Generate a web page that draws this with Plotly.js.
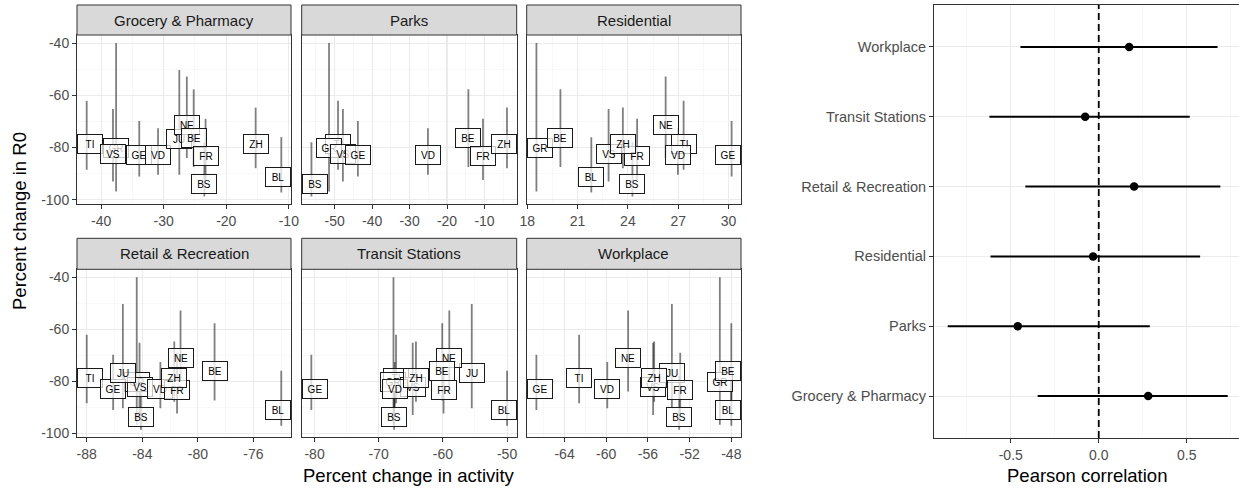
<!DOCTYPE html>
<html><head><meta charset="utf-8">
<script src="https://cdn.plot.ly/plotly-3.0.1.min.js"></script>
<style>html,body{margin:0;padding:0;background:#fff}#chart{width:1239px;height:488px}</style>
</head><body><div id="chart"></div>
<script>
// ---- data ----
const cantons   = ["TI","GR","VS","GE","VD","JU","NE","BE","FR","BS","ZH","BL"];
const r0Change  = [-78.6,-80.2,-82.4,-83.0,-83.0,-76.8,-71.2,-76.2,-83.2,-93.8,-78.7,-91.1];
const r0Low     = [-88.5,-96.8,-93.0,-91.1,-90.4,-90.4,-84.0,-87.4,-92.4,-98.7,-87.9,-97.2];
const r0High    = [-62.1,-40.0,-65.2,-69.8,-72.6,-50.3,-52.8,-57.7,-69.0,-78.0,-64.7,-76.0];

const grocery     = [-42.3,-37.6,-38.1,-33.9,-30.9,-27.5,-26.3,-25.2,-23.3,-23.5,-15.3,-11.2];
const parks       = [-49.1,-51.5,-47.8,-43.8,-25.1,null,null,-14.3,-10.4,-56.2,-4.0,null];
const residential = [27.32,18.55,22.85,30.18,26.98,null,26.25,19.98,24.55,24.27,23.70,21.82];
const retail      = [-88.0,-84.4,-84.2,-86.1,-82.7,-85.4,-81.25,-78.8,-81.5,-84.1,-81.7,-74.0];
const transit     = [-67.3,-67.7,-64.7,-80.5,-67.5,-55.5,-59.0,-60.1,-59.9,-67.6,-64.2,-50.0];
const workplace   = [-62.6,-49.1,-55.5,-66.7,-59.9,-53.7,-57.9,-48.0,-52.9,-53.0,-55.4,-48.0];

const facetNames = ["Grocery & Pharmacy","Parks","Residential","Retail & Recreation","Transit Stations","Workplace"];

const groceryTicks     = [-40,-30,-20,-10];
const parksTicks       = [-50,-40,-30,-20,-10];
const residentialTicks = [18,21,24,27,30];
const retailTicks      = [-88,-84,-80,-76];
const transitTicks     = [-80,-70,-60,-50];
const workplaceTicks   = [-64,-60,-56,-52,-48];
const r0Ticks          = [-40,-60,-80,-100];

const corrCategories = ["Grocery & Pharmacy","Parks","Residential","Retail & Recreation","Transit Stations","Workplace"];
const corrR  = [0.281,-0.460,-0.032,0.201,-0.077,0.173];
const corrLo = [-0.347,-0.858,-0.615,-0.417,-0.621,-0.445];
const corrHi = [0.733,0.290,0.576,0.691,0.517,0.675];
const corrTicks = [-0.5,0,0.5];
const corrTickText = ["-0.5","0.0","0.5"];

// ---- layout helpers ----
const W = 1239, H = 488;
const fx = v => v / W, fy = v => 1 - v / H;
const FONT = "Liberation Sans, Arial, Helvetica, sans-serif";
const colsPx = [[77,291],[301.7,516.7],[526.7,741]];
const rowsPlot = [[35,204],[269.3,437.3]];
const rowsStrip = [[5,35],[238.3,269.3]];

const facets = [
  {x: grocery,     range:[-43.85,-9.65], ticks: groceryTicks,     minor:5},
  {x: parks,       range:[-58.8,-1.4],   ticks: parksTicks,       minor:5},
  {x: residential, range:[17.97,30.74],  ticks: residentialTicks, minor:1.5},
  {x: retail,      range:[-88.7,-73.3],  ticks: retailTicks,      minor:2},
  {x: transit,     range:[-82.0,-48.5],  ticks: transitTicks,     minor:5},
  {x: workplace,   range:[-67.63,-47.07],ticks: workplaceTicks,   minor:2}
];
const yRange = [-101.6,-36.9];

const traces = [];
const layout = {
  width: W, height: H, margin:{l:0,r:0,t:0,b:0},
  paper_bgcolor:'#fff', plot_bgcolor:'#fff', showlegend:false,
  font:{family:FONT, size:14, color:'#4D4D4D'},
  shapes:[], annotations:[]
};

const gridC = '#EBEBEB', minorC = '#F4F4F4', lineC = '#333333';

facets.forEach((f, i) => {
  const k = i + 1;
  const col = i % 3, row = Math.floor(i / 3);
  const [x0, x1] = colsPx[col];
  const [py0, py1] = rowsPlot[row];
  const [sy0, sy1] = rowsStrip[row];
  const xa = 'xaxis' + k, ya = 'yaxis' + k;
  layout[xa] = {
    domain:[fx(x0), fx(x1)], anchor:'y'+k, range:f.range,
    tickmode:'array', tickvals:f.ticks, ticktext:f.ticks.map(String),
    ticks:'outside', ticklen:4, tickcolor:lineC, tickwidth:1,
    tickfont:{size:14, color:'#4D4D4D', family:FONT},
    showgrid:true, gridcolor:gridC, gridwidth:1.1, zeroline:false,
    minor:{tickmode:'linear', tick0:0, dtick:f.minor, showgrid:true, gridcolor:minorC, gridwidth:0.6, ticks:''},
    showline:true, mirror:true, linecolor:lineC, linewidth:1
  };
  layout[ya] = {
    domain:[fy(py1), fy(py0)], anchor:'x'+k, range:yRange,
    tickmode:'array', tickvals:r0Ticks, ticktext:r0Ticks.map(String),
    ticks: col === 0 ? 'outside' : '', ticklen:4, tickcolor:lineC,
    showticklabels: col === 0,
    tickfont:{size:14, color:'#4D4D4D', family:FONT},
    showgrid:true, gridcolor:gridC, gridwidth:1.1, zeroline:false,
    minor:{tickmode:'linear', tick0:0, dtick:10, showgrid:true, gridcolor:minorC, gridwidth:0.6, ticks:''},
    showline:true, mirror:true, linecolor:lineC, linewidth:1
  };
  // error bars per canton
  const xs = [], ys = [], up = [], dn = [];
  cantons.forEach((c, j) => {
    if (f.x[j] === null) return;
    xs.push(f.x[j]); ys.push(r0Change[j]);
    up.push(r0High[j] - r0Change[j]); dn.push(r0Change[j] - r0Low[j]);
  });
  traces.push({
    type:'scatter', mode:'markers', x:xs, y:ys, xaxis:'x'+k, yaxis:'y'+k,
    marker:{size:1, color:'rgba(0,0,0,0)'}, hoverinfo:'skip',
    error_y:{type:'data', symmetric:false, array:up, arrayminus:dn, color:'rgba(0,0,0,0.5)', thickness:1.8, width:0}
  });
  // labels, kept inside the panel like ggrepel
  const upp = (f.range[1] - f.range[0]) / (x1 - x0);
  const half = 13;
  cantons.forEach((c, j) => {
    if (f.x[j] === null) return;
    const lx = Math.min(Math.max(f.x[j], f.range[0] + half*upp), f.range[1] - half*upp);
    layout.annotations.push({
      xref:'x'+k, yref:'y'+k, x:lx, y:r0Change[j], text:c, showarrow:false,
      font:{size:10, color:'#000', family:FONT},
      bgcolor:'rgba(255,255,255,0.75)', bordercolor:'#1A1A1A', borderwidth:1, borderpad:3,
      width:18, height:12
    });
  });
  // strip
  layout.shapes.push({type:'rect', xref:'paper', yref:'paper', x0:fx(x0), x1:fx(x1), y0:fy(sy1), y1:fy(sy0),
    fillcolor:'#D9D9D9', line:{color:lineC, width:1}, layer:'above'});
  layout.annotations.push({xref:'paper', yref:'paper', x:fx((x0+x1)/2), y:fy((sy0+sy1)/2),
    text:facetNames[i], showarrow:false, font:{size:15, color:'#1A1A1A', family:FONT}, xanchor:'center', yanchor:'middle'});
});

// right panel
const rx0 = 934, rx1 = 1239, ry0 = 5, ry1 = 438;
layout.xaxis7 = {
  domain:[fx(rx0), 1], anchor:'y7', range:[-0.936, -0.936 + (rx1 - rx0) / 176],
  tickmode:'array', tickvals:corrTicks, ticktext:corrTickText,
  ticks:'outside', ticklen:4, tickcolor:lineC,
  tickfont:{size:14, color:'#4D4D4D', family:FONT},
  showgrid:true, gridcolor:gridC, gridwidth:1.1, zeroline:false,
  minor:{tickmode:'linear', tick0:0.25, dtick:0.5, showgrid:true, gridcolor:minorC, gridwidth:0.6, ticks:''},
  showline:true, mirror:true, linecolor:lineC, linewidth:1
};
layout.yaxis7 = {
  domain:[fy(ry1), fy(ry0)], anchor:'x7', type:'category',
  categoryorder:'array', categoryarray:corrCategories, range:[-0.6, 5.6],
  ticks:'outside', ticklen:4, tickcolor:lineC,
  tickfont:{size:14.5, color:'#4D4D4D', family:FONT},
  showgrid:true, gridcolor:gridC, gridwidth:1.1, zeroline:false,
  showline:true, mirror:false, linecolor:lineC, linewidth:1
};
layout.shapes.push({type:'line', xref:'x7', yref:'y7 domain', x0:0, x1:0, y0:0, y1:1,
  line:{color:'#000', width:1.8, dash:'7px,4px'}, layer:'above'});
traces.push({
  type:'scatter', mode:'markers', x:corrR, y:corrCategories, xaxis:'x7', yaxis:'y7',
  marker:{size:8.5, color:'#000'}, hoverinfo:'skip',
  error_x:{type:'data', symmetric:false,
    array:corrR.map((v,i)=>corrHi[i]-v), arrayminus:corrR.map((v,i)=>v-corrLo[i]),
    color:'#000', thickness:2, width:0}
});

// axis titles
layout.annotations.push({xref:'paper', yref:'paper', x:fx(409), y:fy(475), text:'Percent change in activity',
  showarrow:false, font:{size:18.5, color:'#000', family:FONT}, xanchor:'center', yanchor:'middle'});
layout.annotations.push({xref:'paper', yref:'paper', x:fx(20), y:fy(221), text:'Percent change in R0', textangle:-90,
  showarrow:false, font:{size:18.5, color:'#000', family:FONT}, xanchor:'center', yanchor:'middle'});
layout.annotations.push({xref:'paper', yref:'paper', x:fx(1087), y:fy(475), text:'Pearson correlation',
  showarrow:false, font:{size:18.5, color:'#000', family:FONT}, xanchor:'center', yanchor:'middle'});

Plotly.newPlot('chart', traces, layout, {staticPlot:true, displayModeBar:false});
</script>
</body></html>
